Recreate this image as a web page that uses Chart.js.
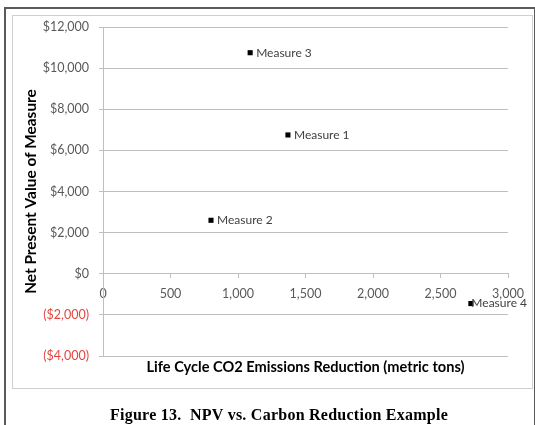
<!DOCTYPE html>
<html>
<head>
<meta charset="utf-8">
<script src="https://cdn.jsdelivr.net/npm/chart.js@4.4.1/dist/chart.umd.min.js"></script>
<style>
  html, body { margin: 0; padding: 0; background: #ffffff; }
  #page { position: relative; width: 535px; height: 425px; overflow: hidden; background: #fff; }
  #frame { position: absolute; left: 4px; top: 7px; width: 528px; height: 440px;
           border: 2px solid #5a5a5a; border-bottom: none; }
  #box { position: absolute; left: 12px; top: 15px; width: 519px; height: 372px;
         border: 1px solid #cfcfcf; }
  #chart { position: absolute; left: 0; top: 0; }
  #caption { position: absolute; left: 110px; top: 407px; line-height: 16px;
             font-family: "Liberation Serif", "Times New Roman", serif; font-weight: bold;
             font-size: 16px; letter-spacing: 0.25px; color: #000; white-space: pre; }
</style>
</head>
<body>
<div id="page">
  <div id="frame"></div>
  <div id="box"></div>
  <canvas id="chart" width="535" height="425"></canvas>
  <div id="caption">Figure 13.  NPV vs. Carbon Reduction Example</div>
</div>
<script>
// Measures: life cycle CO2 reduction (metric tons) vs. net present value ($)
const measureNames = ['Measure 1', 'Measure 2', 'Measure 3', 'Measure 4'];
const co2Reduction = [1370, 800, 1090, 2725];
const netPresentValue = [6750, 2600, 10750, -1450];

const xTicks = [0, 500, 1000, 1500, 2000, 2500, 3000];
const yTicks = [-4000, -2000, 0, 2000, 4000, 6000, 8000, 10000, 12000];

const points = co2Reduction.map((x, i) => ({ x: x, y: netPresentValue[i] }));

const FONT = 'Lato, "Open Sans", sans-serif';
const GRID = '#bfbfbf';
const TEXT = '#595959';
const NEG = '#e2463f';

function money(v) {
  const s = '$' + Math.abs(v).toLocaleString('en-US');
  return v < 0 ? '(' + s + ')' : s;
}

// Draws each measure's name beside its marker, kept inside the chart box
const pointLabels = {
  id: 'pointLabels',
  afterDatasetsDraw(chart) {
    const ctx = chart.ctx;
    const meta = chart.getDatasetMeta(0);
    const limit = 527;
    ctx.save();
    ctx.font = '12px ' + FONT;
    ctx.fillStyle = '#404040';
    ctx.textBaseline = 'middle';
    ctx.textAlign = 'left';
    meta.data.forEach((pt, i) => {
      const text = measureNames[i];
      const w = ctx.measureText(text).width;
      let x = pt.x + 6;
      if (x + w > limit) x = limit - w;
      ctx.fillText(text, x, pt.y);
    });
    ctx.restore();
  }
};

new Chart(document.getElementById('chart'), {
  type: 'scatter',
  data: {
    datasets: [{
      data: points,
      pointStyle: 'rect',
      pointRadius: 3.6,
      pointHoverRadius: 3.6,
      pointBorderWidth: 0,
      backgroundColor: '#000000',
      borderColor: '#000000'
    }]
  },
  options: {
    responsive: false,
    animation: false,
    events: [],
    layout: { padding: { left: 15, top: 27, right: 27, bottom: 49 } },
    plugins: { legend: { display: false }, tooltip: { enabled: false } },
    scales: {
      x: {
        type: 'linear',
        position: { y: 0 },
        min: 0, max: 3000,
        afterBuildTicks: s => { s.ticks = xTicks.map(v => ({ value: v })); },
        ticks: { color: TEXT, font: { family: FONT, size: 12.5 }, padding: 9,
                 callback: v => v.toLocaleString('en-US'), maxRotation: 0 },
        grid: { drawOnChartArea: false, drawTicks: true, tickLength: 4, color: GRID },
        border: { display: true, color: GRID }
      },
      xTitle: {
        type: 'linear',
        axis: 'x',
        position: 'bottom',
        min: 0, max: 3000,
        afterFit: s => { s.height = 20; },
        ticks: { display: false },
        grid: { display: false, drawTicks: false },
        border: { display: false },
        title: { display: true, text: 'Life Cycle CO2 Emissions Reduction (metric tons)',
                 color: '#000', font: { family: FONT, size: 14.6, weight: 'bold' },
                 padding: { top: 3, bottom: 0 } }
      },
      y: {
        type: 'linear',
        position: 'left',
        min: -4000, max: 12000,
        afterBuildTicks: s => { s.ticks = yTicks.map(v => ({ value: v })); },
        afterFit: s => { s.width = 88; },
        ticks: { font: { family: FONT, size: 12.5 }, padding: 10,
                 color: c => (c.tick && c.tick.value < 0 ? NEG : TEXT),
                 callback: v => money(v) },
        grid: { color: GRID, tickLength: 4, drawTicks: true },
        border: { display: true, color: GRID },
        title: { display: true, text: 'Net Present Value of Measure', color: '#000',
                 font: { family: FONT, size: 15.4, weight: 'bold' },
                 padding: { top: 7, bottom: 4 } }
      }
    }
  },
  plugins: [pointLabels]
});
</script>
</body>
</html>
